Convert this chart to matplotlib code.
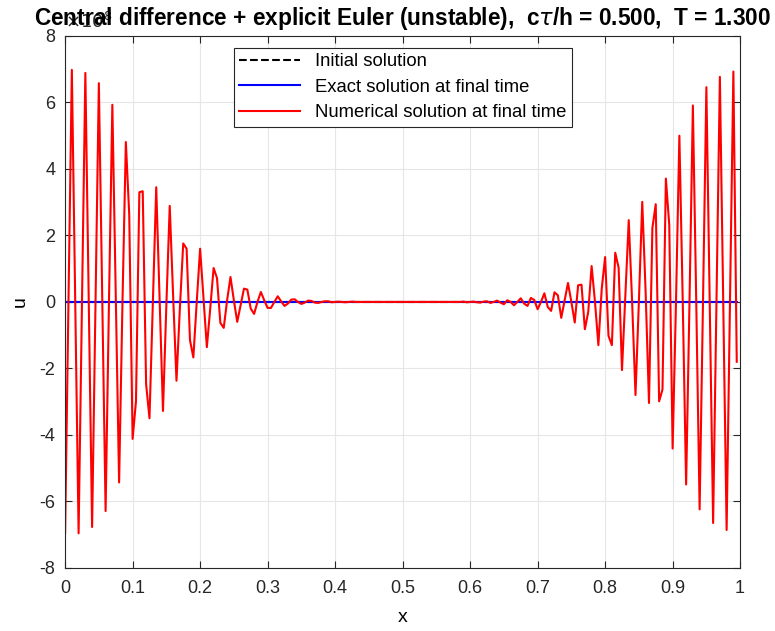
import numpy as np
import matplotlib
matplotlib.use("Agg")
import matplotlib.pyplot as plt
from matplotlib.ticker import FuncFormatter

plt.rcParams.update({
    "font.family": ["Liberation Sans", "DejaVu Sans"],
    "font.size": 13,
    "axes.unicode_minus": False,
    "axes.edgecolor": "#262626",
    "xtick.color": "#262626",
    "ytick.color": "#262626",
})

# grid: 200 points, h = 0.005 (periodic, last point at 0.995)
x = np.linspace(0.0, 0.995, 200)

# numerical solution at final time, in units of 1e8
u_num_left = [
    -6.96, 0.00, 6.98, 0.00, -6.96, 0.00, 6.89, 0.05, -6.77, 0.00,
    6.58, 0.10, -6.29, 0.00, 5.93, 0.20, -5.43, 0.00, 4.81, 2.63,
    -4.12, -2.99, 3.30, 3.33, -2.47, -3.50, 0.00, 3.45, 0.10, -3.28,
    -0.10, 2.89, 0.20, -2.37, -0.20, 1.76, 1.60, -1.15, -1.67, 0.00,
    1.60, 0.10, -1.36, -0.20, 1.02, 0.72, -0.63, -0.78, 0.05, 0.75,
    0.05, -0.60, -0.10, 0.40, 0.37, -0.20, -0.36, 0.00, 0.30, 0.05,
    -0.18, -0.18, 0.00, 0.17, 0.02, -0.12, -0.05, 0.07, 0.08, 0.00,
    -0.06, -0.02, 0.04, 0.03, -0.02, -0.03, 0.00, 0.02, 0.02, -0.01,
]
u_num_mid = [
    0.00, 0.01, 0.00, -0.01, 0.00, 0.01, 0.00, 0.00, 0.00, 0.00,
    0.00, 0.00, 0.00, 0.00, 0.00, 0.00, 0.00, 0.00, 0.00, 0.00,
    0.00, 0.00, 0.00, 0.00, 0.00, 0.00, 0.00, 0.00, 0.00, 0.00,
    0.00, 0.00, 0.00, 0.00, 0.00, 0.00, 0.00, 0.00, 0.01, -0.01,
]
u_num_right = [
    0.00, 0.01, -0.01, -0.02, 0.01, 0.02, -0.03, 0.00, 0.04, -0.02,
    -0.07, 0.05, 0.00, -0.10, 0.00, 0.11, -0.05, -0.12, 0.12, 0.06,
    -0.22, 0.00, 0.26, -0.15, -0.27, 0.29, 0.20, -0.48, 0.05, 0.57,
    0.00, -0.62, 0.50, 0.52, -0.82, -0.30, 1.08, 0.00, -1.30, 0.40,
    1.35, -1.02, -1.30, 1.48, 1.03, -2.05, 0.20, 2.46, 0.00, -2.80,
    0.00, 3.01, 0.30, -3.04, 2.22, 2.94, -2.99, -2.63, 3.71, 2.32,
    -4.41, 0.00, 5.00, 0.00, -5.49, 0.00, 5.91, 0.00, -6.24, 0.00,
    6.46, 0.00, -6.65, 0.00, 6.77, 0.00, -6.86, 0.00, 6.93, -1.80,
]
u_num = np.array(u_num_left + u_num_mid + u_num_right) * 1e8

# initial and exact solutions are ~O(1), i.e. flat at this scale
u_init = [0.0] * len(x)
u_exact = [0.0] * len(x)

fig = plt.figure(figsize=(7.75, 6.31), dpi=100)
ax = fig.add_axes([0.084, 0.1, 0.871, 0.843])

ax.plot(x, u_init, 'k--', linewidth=1.5, label='Initial solution')
ax.plot(x, u_exact, color='#0000ff', linewidth=1.5, label='Exact solution at final time')
ax.plot(x, u_num, color='#ff0000', linewidth=1.5, label='Numerical solution at final time')

ax.set_xlim(0, 1)
ax.set_ylim(-8e8, 8e8)
ax.set_xticks(np.arange(0, 1.01, 0.1))
ax.set_xticklabels(['0', '0.1', '0.2', '0.3', '0.4', '0.5', '0.6', '0.7', '0.8', '0.9', '1'])
ax.set_yticks(np.arange(-8e8, 8.1e8, 2e8))
ax.yaxis.set_major_formatter(FuncFormatter(lambda v, p: '%g' % round(v / 1e8)))
# MATLAB-style exponent label at the top-left corner
ax.text(0.0, 1.008, r'$\times 10^{8}$', transform=ax.transAxes, fontsize=13,
        color='#262626', ha='left', va='bottom')

ax.tick_params(direction='in', top=True, right=True, length=5, labelsize=13)
ax.tick_params(axis='x', pad=9)
ax.tick_params(axis='y', pad=7)
ax.grid(True, color='#e6e6e6', linewidth=0.8)
ax.set_axisbelow(True)

ax.set_xlabel('x', fontsize=14, labelpad=8)
ax.set_ylabel('u', fontsize=14, labelpad=8)
ax.set_title(r'Central difference + explicit Euler (unstable),  c$\tau$/h = 0.500,  T = 1.300',
             fontsize=16.3, fontweight='bold', y=1.0, pad=8)

leg = ax.legend(loc='upper center', bbox_to_anchor=(0.5, 0.995), fontsize=13.3,
                fancybox=False, edgecolor='#262626', framealpha=1,
                handlelength=3.3, borderpad=0.3, labelspacing=0.45)
leg.get_frame().set_linewidth(0.8)

fig.savefig('out.png', dpi=100)
